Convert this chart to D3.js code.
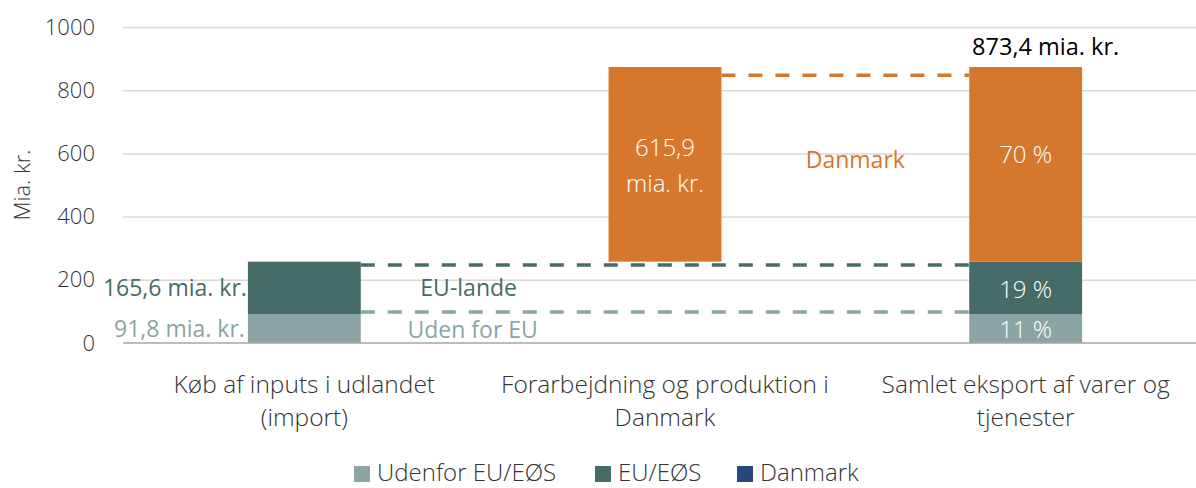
<!DOCTYPE html>
<html>
<meta charset="utf-8">
<style>
body {
  margin: 0;
  background: #fff;
  font-family: 'Open Sans', sans-serif;
}
svg {
  display: block;
}
text {
  font-size: 24.5px;
  font-weight: 300;
}
text.lbl {
  font-size: 23px;
  font-weight: 400;
}
text.inbar {
  font-size: 24px;
  font-weight: 300;
}
.grid line {
  stroke: #d9d9d9;
  stroke-width: 1.5;
}
.grid path {
  stroke-width: 0;
}
.tick text {
  fill: #333;
}
</style>
<body>
<svg width="1196" height="488"></svg>
<script src="https://cdn.jsdelivr.net/npm/d3@7"></script>
<script>

var categories = [
  ["Køb af inputs i udlandet", "(import)"],
  ["Forarbejdning og produktion i", "Danmark"],
  ["Samlet eksport af varer og", "tjenester"]
];
var seriesNames = ["Udenfor EU/EØS", "EU/EØS", "Danmark"];
// [base, value] per category and series
var udenfor = [[0, 91.8], null, [0, 91.8]];
var euEos = [[91.8, 165.6], null, [91.8, 165.6]];
var danmark = [null, [257.4, 615.9], [257.4, 615.9]];
var yTicks = [0, 200, 400, 600, 800, 1000];
var shareLabels = ["11 %", "19 %", "70 %"];
var totalLabel = "873,4 mia. kr.";
// connector levels between the bars
var connectors = [
  { from: 0, to: 2, value: 98, series: 0 },
  { from: 0, to: 2, value: 247, series: 1 },
  { from: 1, to: 2, value: 847, series: 2 }
];

var colors = ["#8aa5a3", "#476b67", "#d5772d"];
var legendColors = ["#8aa5a3", "#476b67", "#23497f"];

var svg = d3.select("svg");

var x = d3.scaleBand()
  .domain(d3.range(categories.length))
  .range([124, 1206])
  .paddingInner(0.687)
  .paddingOuter(0.3435);

var y = d3.scaleLinear().domain([0, 1000]).range([343, 27]);

// gridlines
svg.append("g").attr("class", "grid")
  .attr("transform", "translate(123,0)")
  .call(d3.axisLeft(y).tickValues(yTicks.slice(1)).tickSize(-1073).tickFormat(""));

// y tick labels
svg.append("g")
  .attr("transform", "translate(105,0)")
  .call(d3.axisLeft(y).tickValues(yTicks).tickSize(0).tickPadding(10).tickFormat(d3.format("d")))
  .call(function(g) { g.select(".domain").remove(); })
  .selectAll("text").style("font-size", "22px").style("font-family", "'Open Sans', sans-serif");

svg.append("text")
  .attr("transform", "translate(30," + y(500) + ") rotate(-90)")
  .attr("text-anchor", "middle")
  .attr("fill", "#333")
  .style("font-size", "22px")
  .text("Mia. kr.");

// bars
[udenfor, euEos, danmark].forEach(function(series, s) {
  svg.append("g").selectAll("rect")
    .data(series.map(function(d, i) { return d ? { i: i, b: d[0], v: d[1] } : null; }).filter(Boolean))
    .enter().append("rect")
    .attr("x", function(d) { return x(d.i); })
    .attr("width", x.bandwidth())
    .attr("y", function(d) { return y(d.b + d.v); })
    .attr("height", function(d) { return y(d.b) - y(d.b + d.v); })
    .attr("fill", colors[s]);
});

// bottom axis line
svg.append("line")
  .attr("x1", 123).attr("x2", 1196)
  .attr("y1", y(0)).attr("y2", y(0))
  .attr("stroke", "#a6a6a6").attr("stroke-width", 1.5);

// dashed connectors
svg.append("g").selectAll("line")
  .data(connectors)
  .enter().append("line")
  .attr("x1", function(d) { return x(d.from) + x.bandwidth(); })
  .attr("x2", function(d) { return x(d.to); })
  .attr("y1", function(d) { return y(d.value); })
  .attr("y2", function(d) { return y(d.value); })
  .attr("stroke", function(d) { return colors[d.series]; })
  .attr("stroke-width", 3.5)
  .attr("stroke-dasharray", "14 13");

// x axis labels
categories.forEach(function(lines, i) {
  var t = svg.append("text")
    .attr("x", x(i) + x.bandwidth() / 2)
    .attr("y", 393)
    .attr("text-anchor", "middle")
    .attr("fill", "#333");
  lines.forEach(function(l, k) {
    t.append("tspan").attr("x", x(i) + x.bandwidth() / 2).attr("dy", k ? "1.35em" : 0).text(l);
  });
});

// value labels
var mid = function(d) { return y(d[0] + d[1] / 2); };
var fmt = function(v) { return String(v).replace(".", ","); };

svg.append("text").attr("class", "lbl").attr("x", x(0) - 1).attr("y", mid(euEos[0])).attr("dy", "0.35em")
  .attr("text-anchor", "end").attr("fill", colors[1])
  .text(fmt(euEos[0][1]) + " mia. kr.");
svg.append("text").attr("class", "lbl").attr("x", x(0) - 3).attr("y", mid(udenfor[0])).attr("dy", "0.35em")
  .attr("text-anchor", "end").attr("fill", colors[0])
  .text(fmt(udenfor[0][1]) + " mia. kr.");

var gap01 = (x(0) + x.bandwidth() + x(1)) / 2;
var gap12 = (x(1) + x.bandwidth() + x(2)) / 2;
svg.append("text").attr("class", "lbl").attr("x", gap01 - 16).attr("y", mid(euEos[0])).attr("dy", "0.35em")
  .attr("text-anchor", "middle").attr("fill", colors[1]).text("EU-lande");
svg.append("text").attr("class", "lbl").attr("x", gap01 - 12).attr("y", mid(udenfor[0]) + 1).attr("dy", "0.35em")
  .attr("text-anchor", "middle").attr("fill", colors[0]).text("Uden for EU");
svg.append("text").attr("class", "lbl").attr("x", gap12 + 10).attr("y", y(580)).attr("dy", "0.35em")
  .attr("text-anchor", "middle").attr("fill", colors[2]).text("Danmark");

var c1 = x(1) + x.bandwidth() / 2;
svg.append("text").attr("class", "inbar").attr("x", c1).attr("y", mid(danmark[1]) - 17).attr("dy", "0.35em")
  .attr("text-anchor", "middle").attr("fill", "#fff").text(fmt(danmark[1][1]));
svg.append("text").attr("class", "inbar").attr("x", c1).attr("y", mid(danmark[1]) + 19).attr("dy", "0.35em")
  .attr("text-anchor", "middle").attr("fill", "#fff").text("mia. kr.");

var c2 = x(2) + x.bandwidth() / 2;
[udenfor[2], euEos[2], danmark[2]].forEach(function(d, s) {
  svg.append("text").attr("class", "inbar").attr("x", c2)
    .attr("y", mid(d) + (s === 2 ? -10 : s === 0 ? 1 : 2)).attr("dy", "0.35em")
    .attr("text-anchor", "middle").attr("fill", "#fff").text(shareLabels[s]);
});

svg.append("text").attr("class", "lbl").attr("x", c2 + 20).attr("y", y(danmark[2][0] + danmark[2][1]) - 20).attr("dy", "0.35em")
  .attr("text-anchor", "middle").attr("fill", "#000").style("font-size", "23.5px").text(totalLabel);

// legend
var legendX = [354, 595, 737];
var legend = svg.append("g").selectAll("g")
  .data(seriesNames)
  .enter().append("g")
  .attr("transform", function(d, i) { return "translate(" + legendX[i] + ",466)"; });
legend.append("rect").attr("width", 16).attr("height", 16)
  .attr("fill", function(d, i) { return legendColors[i]; });
legend.append("text").attr("x", 23).attr("y", 15)
  .style("font-size", "24px")
  .attr("fill", "#333").text(function(d) { return d; });

</script>
</body>
</html>
